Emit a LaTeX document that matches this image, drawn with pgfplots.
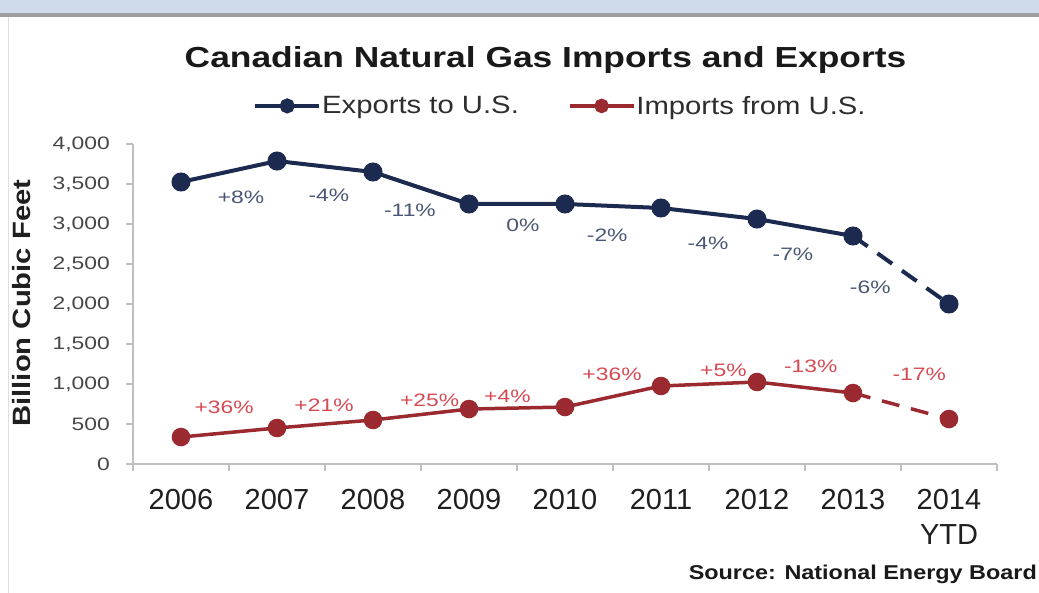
\documentclass[border=0pt]{standalone}
\usepackage{fontspec}
\setmainfont{Liberation Sans}
\newfontfamily\titlef[FakeStretch=1.22]{Liberation Sans}
\newfontfamily\legf[FakeStretch=1.17]{Liberation Sans}
\newfontfamily\ytf[FakeStretch=1.27]{Liberation Sans}
\usepackage{pgfplots}
\pgfplotsset{compat=1.18}
\definecolor{expc}{HTML}{1B2A4E}
\definecolor{impc}{HTML}{9B2A30}
\definecolor{explab}{HTML}{4A5673}
\definecolor{implab}{HTML}{D64A52}
\definecolor{band}{HTML}{CFDBEA}
\definecolor{axisc}{HTML}{BFBFBF}
\begin{document}
\begin{tikzpicture}[x=1pt,y=1pt]
\path[use as bounding box] (0,0) rectangle (1039,593);
\fill[white] (0,0) rectangle (1039,593);
\fill[band] (0,580) rectangle (1039,593);
\fill[gray!75] (0,576) rectangle (1039,580);
\draw[gray!25, line width=1pt] (8,0) -- (8,576);
\node[anchor=base, text=black!90, font=\titlef\bfseries\fontsize{29}{35}\selectfont, inner sep=0pt] at (545.5,525) {Canadian Natural Gas Imports and Exports};
\node[anchor=base east, font=\legf\bfseries\fontsize{20}{24}\selectfont, inner sep=0pt, text=black!90] at (1037,13) {Source: National Energy Board};
\begin{axis}[
  at={(133pt,129pt)}, anchor=south west,
  scale only axis, width=864pt, height=320pt,
  xmin=-0.5, xmax=8.5, ymin=0, ymax=4000,
  clip=false,
  axis x line*=bottom, axis y line*=left,
  axis line style={axisc, line width=2pt},
  tick style={axisc, line width=1.5pt},
  tick align=outside,
  major tick length=7pt, minor tick length=7pt,
  xtick={0,...,8},
  xticklabels={2006,2007,2008,2009,2010,2011,2012,2013,{2014\\YTD}},
  minor xtick={-0.5,0.5,...,8.5},
  every major x tick/.append style={draw=none},
  xticklabel style={align=center, font=\fontsize{29}{35}\selectfont, text=black!88, anchor=north, inner sep=0pt, yshift=-18pt},
  ytick={0,500,...,4000},
  scaled y ticks=false,
  yticklabel style={/pgf/number format/.cd, 1000 sep={,}, assume math mode=true, /tikz/.cd, font=\ytf\fontsize{18}{22}\selectfont, text=black!72, anchor=east, inner sep=0pt, xshift=-16pt},
  ylabel={Billion Cubic Feet},
  ylabel style={at={(axis description cs:-0.1285,0.503)}, anchor=center, font=\legf\bfseries\fontsize{25}{30}\selectfont, text=black!88},
  legend columns=2,
  legend style={at={(axis description cs:0.1389,1.119)}, anchor=west, draw=none, fill=none, inner sep=0pt, font=\legf\fontsize{25}{30}\selectfont, text=black!82, /tikz/every even column/.append style={column sep=48pt}, nodes={inner sep=1pt}},
  legend image code/.code={\draw[mark repeat=2,mark phase=2,#1,mark size=5.5pt] plot coordinates {(0pt,0pt) (32pt,0pt) (64pt,0pt)};},
]
\addplot[expc, line width=4pt, mark=*, mark size=7.5pt] coordinates {(0,3525) (1,3787) (2,3650) (3,3250) (4,3250) (5,3200) (6,3062) (7,2850)};
\addlegendentry{Exports to U.S.}
\addplot[expc, line width=4pt, dash pattern=on 18pt off 12pt, mark=*, mark size=7.5pt, mark options={solid}, mark indices={2}, forget plot] coordinates {(7,2850) (8,2000)};
\addplot[impc, line width=3.5pt, mark=*, mark size=7.5pt] coordinates {(0,337) (1,450) (2,550) (3,687) (4,712) (5,975) (6,1025) (7,887)};
\addlegendentry{Imports from U.S.}
\addplot[impc, line width=3.5pt, dash pattern=on 18pt off 12pt, mark=*, mark size=7.5pt, mark options={solid}, mark indices={2}, forget plot] coordinates {(7,887) (8,562)};
\begin{scope}[every node/.style={font=\ytf\fontsize{18}{22}\selectfont, inner sep=0pt}]
\node[text=explab] at (axis cs:0.625,3337) {+8\%};
\node[text=explab] at (axis cs:1.54,3362) {-4\%};
\node[text=explab] at (axis cs:2.385,3175) {-11\%};
\node[text=explab] at (axis cs:3.5625,2987) {0\%};
\node[text=explab] at (axis cs:4.44,2862) {-2\%};
\node[text=explab] at (axis cs:5.49,2762) {-4\%};
\node[text=explab] at (axis cs:6.375,2625) {-7\%};
\node[text=explab] at (axis cs:7.18,2212) {-6\%};
\node[text=implab] at (axis cs:0.45,712) {+36\%};
\node[text=implab] at (axis cs:1.49,737) {+21\%};
\node[text=implab] at (axis cs:2.59,800) {+25\%};
\node[text=implab] at (axis cs:3.40,850) {+4\%};
\node[text=implab] at (axis cs:4.49,1125) {+36\%};
\node[text=implab] at (axis cs:5.65,1175) {+5\%};
\node[text=implab] at (axis cs:6.56,1225) {-13\%};
\node[text=implab] at (axis cs:7.69,1125) {-17\%};
\end{scope}
\end{axis}
\end{tikzpicture}
\end{document}
